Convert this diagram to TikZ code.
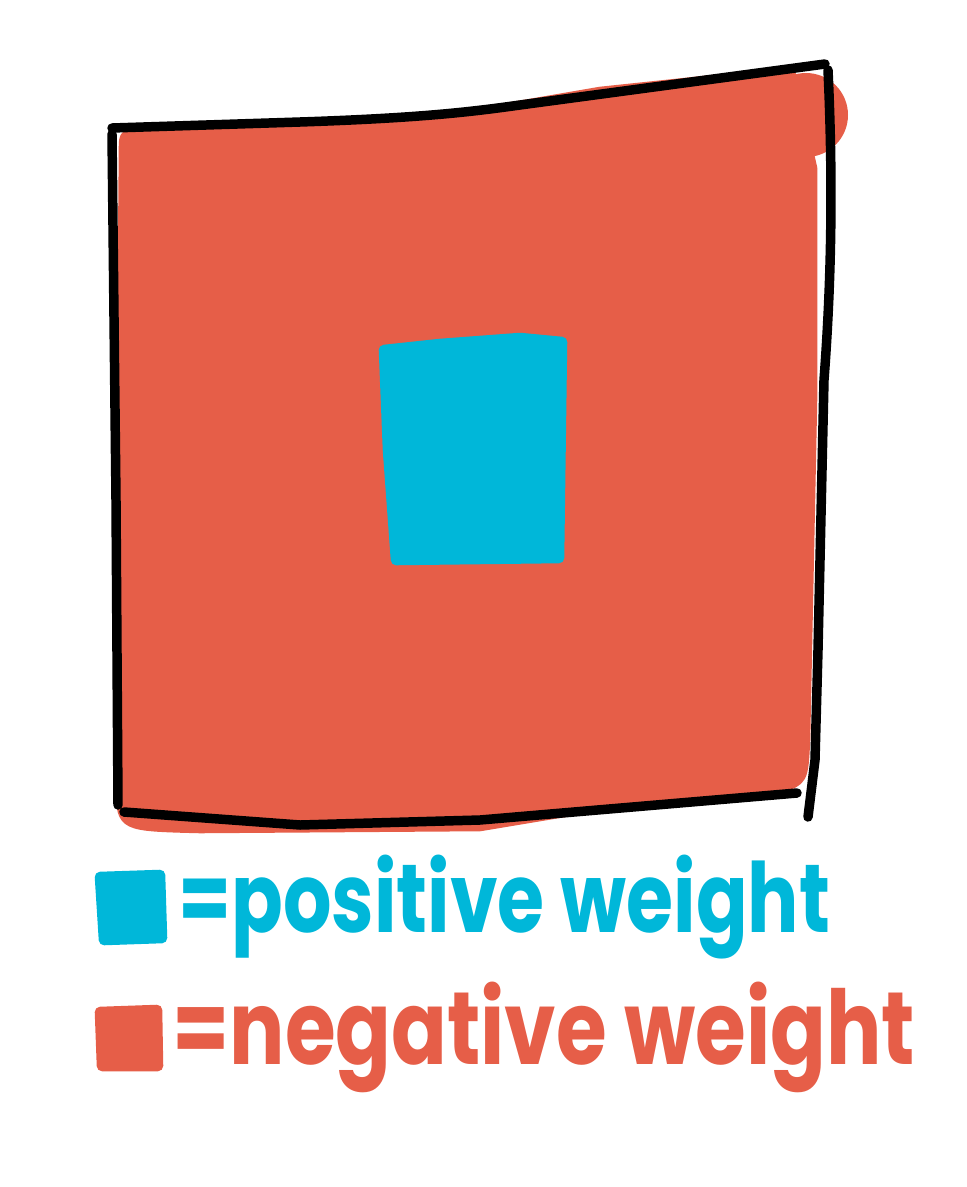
\documentclass[tikz,border=0pt]{standalone}
\usepackage{fontspec}
\setmainfont{Poppins}
\definecolor{negred}{HTML}{E65E48}
\definecolor{poscyan}{HTML}{00B7D9}
\tikzset{
  outline/.style={draw=black, line width=5.4pt, line cap=round, line join=round},
  blob/.style={fill=#1, draw=#1, line width=6pt, line join=round},
  legtext/.style={inner sep=0pt, anchor=base west, text=#1, font=\bfseries},
}
\begin{document}
\begin{tikzpicture}[x=0.02cm, y=-0.02cm]
\useasboundingbox (0,0) rectangle (967,1187);
% red area
\path[blob=negred] (124,150) .. controls (124,134) .. (145,132) -- (300,127) -- (420,123) -- (600,92) -- (790,72)
  -- (812,168) -- (812,400) -- (805,740) .. controls (803,780) .. (780,788) -- (600,806) -- (480,826)
  -- (200,828) .. controls (122,826) .. (121,790) -- (121,500) -- cycle;
\fill[negred] (806,115) circle (42);
% black outline
\draw[outline] (112,128) -- (300,122) .. controls (420,118) and (470,112) .. (520,105) -- (825,64);
\draw[outline] (112,134) -- (116,500) -- (118,805);
\draw[outline] (828,70) .. controls (834,200) and (830,300) .. (824,380) -- (818,650) -- (815,760) -- (808,817);
\draw[outline] (124,812) -- (300,825) -- (480,820) -- (797,793);
% cyan centre
\path[blob=poscyan] (384,350) -- (440,344) -- (520,338) -- (562,342) -- (559,558) -- (396,560) -- (388,450) -- cycle;
% legend
\path[blob=poscyan] (100,877) -- (160,875) -- (162,938) -- (104,940) -- cycle;
\node[legtext=poscyan] (pos) at (178,932) {\resizebox{13.04cm}{1.55cm}{\fontsize{40}{40}\selectfont =positive weight}};
\path[blob=negred] (100,1012) -- (157,1010) -- (158,1066) -- (102,1066) -- cycle;
\node[legtext=negred] (neg) at (172,1064) {\resizebox{14.86cm}{1.65cm}{\fontsize{40}{40}\selectfont =negative weight}};
\end{tikzpicture}
\end{document}
